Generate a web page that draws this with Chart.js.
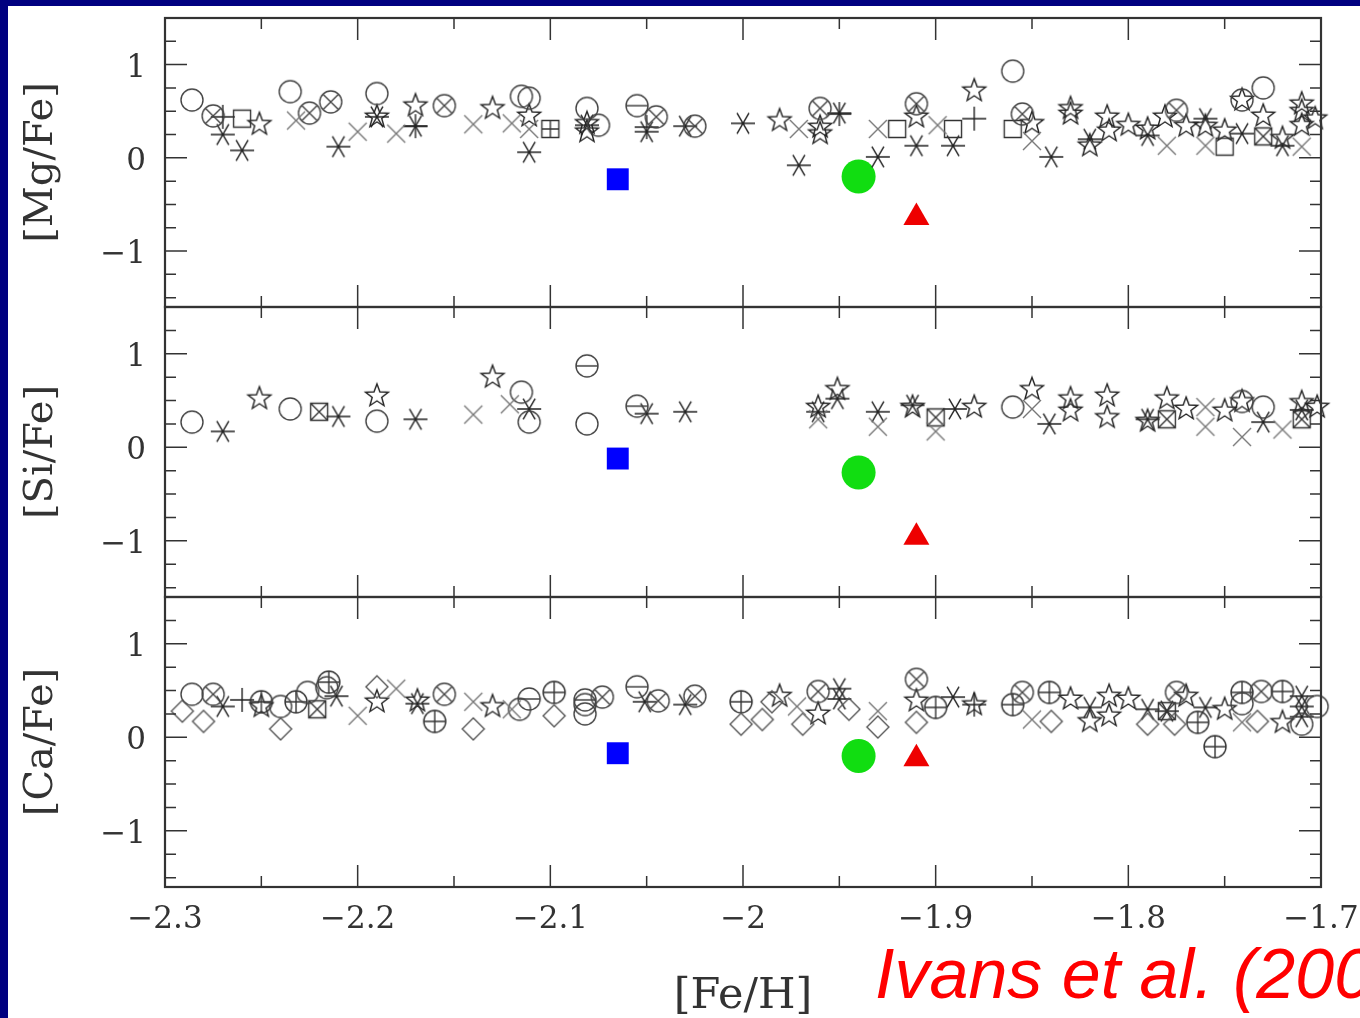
<!DOCTYPE html>
<html>
<head>
<meta charset="utf-8">
<script src="https://cdn.jsdelivr.net/npm/chart.js@4.4.1/dist/chart.umd.min.js"></script>
<style>
html, body { margin: 0; padding: 0; width: 1360px; height: 1018px; overflow: hidden; background: #000080; }
#sheet { position: absolute; left: 8px; top: 6px; width: 1352px; height: 1012px; background: #fff; }
canvas { position: absolute; left: 0; }
#cite { position: absolute; left: 875px; top: 939px; color: #f00; font: italic 70px "Liberation Sans", Arial, sans-serif; line-height: 1; white-space: nowrap; }
</style>
</head>
<body>
<div id="sheet"></div>
<canvas id="mg" width="1360" height="309" style="top:8px"></canvas>
<canvas id="si" width="1360" height="310" style="top:297px"></canvas>
<canvas id="ca" width="1360" height="441" style="top:587px"></canvas>
<div id="cite">Ivans et al. (2001)</div>
<script>
// axis ticks
const xMajorTicks = [-2.3, -2.2, -2.1, -2.0, -1.9, -1.8, -1.7];
const xTickLabels = ['\u22122.3', '\u22122.2', '\u22122.1', '\u22122', '\u22121.9', '\u22121.8', '\u22121.7'];
const xMinorTicks = [-2.25, -2.15, -2.05, -1.95, -1.85, -1.75];
const yMajorTicks = [-1, 0, 1];
const yTickLabels = ['\u22121', '0', '1'];
const yMinorTicks = [-1.5, -1.25, -0.75, -0.5, -0.25, 0.25, 0.5, 0.75, 1.25];

// [Mg/Fe] panel
const mgCircle = [[-2.286,0.62],[-2.235,0.71],[-2.190,0.69],[-2.115,0.66],[-2.111,0.64],[-2.081,0.53],[-2.075,0.35],[-1.860,0.93],[-1.730,0.75],[-1.741,0.62]];
const mgOCross = [[-2.275,0.45],[-2.225,0.48],[-2.214,0.60],[-2.155,0.56],[-2.045,0.44],[-2.025,0.34],[-1.960,0.53],[-1.910,0.58],[-1.855,0.47],[-1.775,0.51]];
const mgOMinus = [[-2.055,0.56]];
const mgStar = [[-2.251,0.36],[-2.190,0.44],[-2.170,0.56],[-2.130,0.53],[-2.111,0.45],[-2.081,0.37],[-2.081,0.28],[-1.981,0.40],[-1.960,0.26],[-1.960,0.33],[-1.910,0.44],[-1.880,0.72],[-1.850,0.37],[-1.830,0.53],[-1.830,0.47],[-1.820,0.13],[-1.811,0.44],[-1.810,0.29],[-1.800,0.35],[-1.790,0.31],[-1.781,0.44],[-1.770,0.34],[-1.760,0.34],[-1.750,0.29],[-1.741,0.62],[-1.730,0.45],[-1.720,0.21],[-1.710,0.58],[-1.710,0.50],[-1.710,0.35],[-1.703,0.42]];
const mgAster = [[-2.270,0.25],[-2.260,0.08],[-2.210,0.12],[-2.190,0.44],[-2.170,0.34],[-2.111,0.06],[-2.081,0.35],[-2.050,0.28],[-2.030,0.34],[-2.000,0.37],[-1.971,-0.08],[-1.950,0.48],[-1.930,0.01],[-1.910,0.13],[-1.891,0.13],[-1.840,0.01],[-1.820,0.20],[-1.790,0.24],[-1.741,0.26],[-1.720,0.13],[-1.760,0.42]];
const mgX = [[-2.232,0.40],[-2.200,0.28],[-2.180,0.26],[-2.140,0.36],[-2.120,0.37],[-2.111,0.31],[-1.971,0.31],[-1.930,0.31],[-1.899,0.35],[-1.850,0.18],[-1.780,0.13],[-1.760,0.13],[-1.710,0.12]];
const mgPlus = [[-2.270,0.44],[-2.170,0.34],[-2.050,0.33],[-1.950,0.47],[-1.880,0.42]];
const mgSquare = [[-2.260,0.42],[-1.920,0.31],[-1.891,0.31],[-1.860,0.31],[-1.750,0.12]];
const mgSqX = [[-1.730,0.23]];
const mgSqPlus = [[-2.100,0.31]];
const mgBlue = [[-2.065,-0.23]];
const mgGreen = [[-1.940,-0.20]];
const mgRed = [[-1.910,-0.64]];

// [Si/Fe] panel
const siCircle = [[-2.286,0.27],[-2.235,0.41],[-2.190,0.28],[-2.115,0.59],[-2.111,0.27],[-2.081,0.25],[-1.860,0.43],[-1.741,0.49],[-1.730,0.43]];
const siOMinus = [[-2.081,0.87],[-2.055,0.44]];
const siStar = [[-2.251,0.52],[-2.190,0.55],[-2.130,0.75],[-1.961,0.43],[-1.951,0.62],[-1.912,0.43],[-1.880,0.43],[-1.850,0.62],[-1.830,0.52],[-1.830,0.39],[-1.811,0.55],[-1.811,0.32],[-1.790,0.28],[-1.780,0.52],[-1.770,0.41],[-1.750,0.39],[-1.741,0.49],[-1.710,0.48],[-1.702,0.43]];
const siAster = [[-2.270,0.17],[-2.210,0.33],[-2.170,0.30],[-2.111,0.41],[-2.050,0.36],[-2.030,0.38],[-1.961,0.38],[-1.951,0.52],[-1.930,0.38],[-1.912,0.45],[-1.890,0.41],[-1.841,0.25],[-1.790,0.30],[-1.730,0.27],[-1.710,0.40]];
const siX = [[-2.140,0.35],[-2.121,0.46],[-1.961,0.30],[-1.930,0.22],[-1.900,0.17],[-1.850,0.41],[-1.760,0.43],[-1.760,0.22],[-1.741,0.11],[-1.720,0.19]];
const siSqX = [[-2.220,0.38],[-1.900,0.32],[-1.780,0.30],[-1.710,0.30]];
const siBlue = [[-2.065,-0.12]];
const siGreen = [[-1.940,-0.27]];
const siRed = [[-1.910,-0.96]];

// [Ca/Fe] panel
const caCircle = [[-2.286,0.46],[-2.240,0.33],[-2.226,0.48],[-2.216,0.53],[-2.116,0.30],[-2.082,0.35],[-2.082,0.25],[-1.741,0.36],[-1.710,0.14],[-1.702,0.33]];
const caOCross = [[-2.275,0.46],[-2.155,0.46],[-2.073,0.43],[-2.044,0.39],[-2.025,0.44],[-1.961,0.49],[-1.910,0.62],[-1.855,0.48],[-1.775,0.48],[-1.731,0.49]];
const caOPlus = [[-2.250,0.38],[-2.232,0.38],[-2.215,0.59],[-2.160,0.17],[-2.098,0.48],[-2.001,0.38],[-1.900,0.32],[-1.860,0.35],[-1.841,0.48],[-1.764,0.16],[-1.755,-0.10],[-1.741,0.48],[-1.720,0.49]];
const caOMinus = [[-2.111,0.41],[-2.055,0.54],[-2.082,0.40]];
const caDiamond = [[-2.291,0.28],[-2.280,0.17],[-2.240,0.09],[-2.190,0.54],[-2.140,0.09],[-2.098,0.23],[-2.001,0.14],[-1.990,0.19],[-1.985,0.38],[-1.969,0.14],[-1.945,0.30],[-1.930,0.11],[-1.910,0.16],[-1.840,0.17],[-1.790,0.14],[-1.776,0.14],[-1.733,0.17]];
const caStar = [[-2.250,0.33],[-2.190,0.38],[-2.169,0.39],[-2.130,0.33],[-1.981,0.44],[-1.961,0.25],[-1.910,0.39],[-1.880,0.35],[-1.830,0.41],[-1.820,0.17],[-1.810,0.44],[-1.810,0.23],[-1.800,0.41],[-1.770,0.44],[-1.750,0.30],[-1.720,0.16]];
const caAster = [[-2.270,0.33],[-2.211,0.44],[-2.169,0.36],[-2.051,0.38],[-2.030,0.35],[-1.950,0.52],[-1.950,0.41],[-1.891,0.43],[-1.820,0.32],[-1.790,0.30],[-1.780,0.28],[-1.760,0.32],[-1.710,0.44],[-1.710,0.33],[-1.710,0.22]];
const caX = [[-2.200,0.23],[-2.180,0.52],[-2.140,0.38],[-2.120,0.30],[-1.972,0.33],[-1.930,0.28],[-1.850,0.19],[-1.741,0.16]];
const caPlus = [[-1.880,0.35],[-2.260,0.40]];
const caSqX = [[-2.221,0.30],[-1.780,0.28]];
const caBlue = [[-2.065,-0.17]];
const caGreen = [[-1.940,-0.20]];
const caRed = [[-1.910,-0.23]];

// draw a hollow marker into a small canvas, used as a pointStyle
function makeMarker(kind, color) {
    const cv = document.createElement('canvas');
    cv.width = 30; cv.height = 30;
    const g = cv.getContext('2d');
    g.strokeStyle = color;
    g.lineWidth = 1.4;
    g.translate(15, 15);
    g.beginPath();
    const circle = () => { g.moveTo(11, 0); g.arc(0, 0, 11, 0, Math.PI * 2); };
    const square = () => g.rect(-8.5, -8.5, 17, 17);
    const line = (x1, y1, x2, y2) => { g.moveTo(x1, y1); g.lineTo(x2, y2); };
    if (kind === 'circle') circle();
    if (kind === 'ocross') { circle(); line(-7.8, -7.8, 7.8, 7.8); line(-7.8, 7.8, 7.8, -7.8); }
    if (kind === 'oplus') { circle(); line(-11, 0, 11, 0); line(0, -11, 0, 11); }
    if (kind === 'ominus') { circle(); line(-11, 0, 11, 0); }
    if (kind === 'square') square();
    if (kind === 'sqx') { square(); line(-8.5, -8.5, 8.5, 8.5); line(-8.5, 8.5, 8.5, -8.5); }
    if (kind === 'sqplus') { square(); line(-8.5, 0, 8.5, 0); line(0, -8.5, 0, 8.5); }
    if (kind === 'x') { line(-9, -9, 9, 9); line(-9, 9, 9, -9); }
    if (kind === 'plus') { line(-12, 0, 12, 0); line(0, -12, 0, 12); }
    if (kind === 'diamond') { g.moveTo(0, -11); g.lineTo(11, 0); g.lineTo(0, 11); g.lineTo(-11, 0); g.closePath(); }
    if (kind === 'aster') {
        for (let k = 0; k < 3; k++) {
            const a = k * Math.PI / 3;
            line(-12 * Math.cos(a), -12 * Math.sin(a), 12 * Math.cos(a), 12 * Math.sin(a));
        }
    }
    if (kind === 'star') {
        for (let k = 0; k < 10; k++) {
            const r = k % 2 ? 5 : 12;
            const a = -Math.PI / 2 + k * Math.PI / 5;
            if (k === 0) g.moveTo(r * Math.cos(a), r * Math.sin(a));
            else g.lineTo(r * Math.cos(a), r * Math.sin(a));
        }
        g.closePath();
    }
    g.stroke();
    return cv;
}

const mk = {
    circle: makeMarker('circle', '#444'),
    ocross: makeMarker('ocross', '#444'),
    oplus: makeMarker('oplus', '#333'),
    ominus: makeMarker('ominus', '#444'),
    star: makeMarker('star', '#222'),
    aster: makeMarker('aster', '#222'),
    x: makeMarker('x', '#777'),
    plus: makeMarker('plus', '#222'),
    square: makeMarker('square', '#333'),
    sqx: makeMarker('sqx', '#333'),
    sqplus: makeMarker('sqplus', '#333'),
    diamond: makeMarker('diamond', '#555')
};

function hollow(points, style) {
    return { data: points.map(p => ({ x: p[0], y: p[1] })), pointStyle: style, pointRadius: 10 };
}
function filled(points, style, radius, color) {
    return { data: points.map(p => ({ x: p[0], y: p[1] })), pointStyle: style, pointRadius: radius,
             backgroundColor: color, borderColor: color, borderWidth: 0 };
}

// frame with inward ticks on all four sides
const framePlugin = {
    id: 'frame',
    afterDatasetsDraw(chart) {
        const { ctx, chartArea: a, scales: { x, y } } = chart;
        ctx.save();
        ctx.strokeStyle = '#333';
        ctx.lineWidth = 1.5;
        ctx.beginPath();
        const xt = (vals, len) => vals.forEach(v => {
            const px = x.getPixelForValue(v);
            ctx.moveTo(px, a.top); ctx.lineTo(px, a.top + len);
            ctx.moveTo(px, a.bottom); ctx.lineTo(px, a.bottom - len);
        });
        const yt = (vals, len) => vals.forEach(v => {
            const py = y.getPixelForValue(v);
            ctx.moveTo(a.left, py); ctx.lineTo(a.left + len, py);
            ctx.moveTo(a.right, py); ctx.lineTo(a.right - len, py);
        });
        xt(xMajorTicks, 22); xt(xMinorTicks, 11);
        yt(yMajorTicks, 22); yt(yMinorTicks, 11);
        ctx.stroke();
        ctx.lineWidth = 2.2;
        ctx.strokeRect(a.left, a.top, a.right - a.left, a.bottom - a.top);
        ctx.restore();
    }
};

const serif = 'DejaVu Serif';

function makePanel(id, datasets, yTitle, isBottom) {
    return new Chart(document.getElementById(id), {
        type: 'scatter',
        data: { datasets: datasets },
        plugins: [framePlugin],
        options: {
            responsive: false,
            animation: false,
            events: [],
            clip: false,
            layout: { autoPadding: false, padding: { top: 10, bottom: isBottom ? 0 : 10, left: 0, right: 39 } },
            plugins: { legend: { display: false }, tooltip: { enabled: false } },
            scales: {
                x: {
                    type: 'linear', min: -2.3, max: -1.7, display: isBottom,
                    grid: { display: false }, border: { display: false },
                    afterBuildTicks: s => { s.ticks = xMajorTicks.map(v => ({ value: v })); },
                    ticks: { callback: (v, i) => xTickLabels[i], font: { family: serif, size: 31 }, color: '#333',
                             padding: 6, maxRotation: 0, autoSkip: false },
                    title: { display: true, text: '[Fe/H]', font: { family: serif, size: 43 }, color: '#333',
                             padding: { top: 0, bottom: 5 } },
                    afterFit: s => {
                        if (isBottom) s.height = 141;
                        s.paddingLeft = 0; s.paddingRight = 0;
                    }
                },
                y: {
                    type: 'linear', min: -1.6, max: 1.5,
                    grid: { display: false }, border: { display: false },
                    afterBuildTicks: s => { s.ticks = yMajorTicks.map(v => ({ value: v })); },
                    ticks: { callback: (v, i) => yTickLabels[i], font: { family: serif, size: 31 }, color: '#333',
                             padding: 11, labelOffset: 4 },
                    title: { display: true, text: yTitle, font: { family: serif, size: 40 }, color: '#333',
                             padding: { top: 18, bottom: 0 } },
                    afterFit: s => {
                        s.width = 165;
                        s.paddingTop = 0; s.paddingBottom = 0;
                    }
                }
            }
        }
    });
}

makePanel('mg', [
    hollow(mgX, mk.x), hollow(mgCircle, mk.circle), hollow(mgOCross, mk.ocross), hollow(mgOMinus, mk.ominus),
    hollow(mgSquare, mk.square), hollow(mgSqX, mk.sqx), hollow(mgSqPlus, mk.sqplus),
    hollow(mgStar, mk.star), hollow(mgAster, mk.aster), hollow(mgPlus, mk.plus),
    filled(mgBlue, 'rect', 15.5, '#0000ff'), filled(mgGreen, 'circle', 17, '#11dd11'), filled(mgRed, 'triangle', 15, '#ee0000')
], '[Mg/Fe]', false);

makePanel('si', [
    hollow(siX, mk.x), hollow(siCircle, mk.circle), hollow(siOMinus, mk.ominus), hollow(siSqX, mk.sqx),
    hollow(siStar, mk.star), hollow(siAster, mk.aster),
    filled(siBlue, 'rect', 15.5, '#0000ff'), filled(siGreen, 'circle', 17, '#11dd11'), filled(siRed, 'triangle', 15, '#ee0000')
], '[Si/Fe]', false);

makePanel('ca', [
    hollow(caX, mk.x), hollow(caDiamond, mk.diamond), hollow(caCircle, mk.circle), hollow(caOCross, mk.ocross),
    hollow(caOPlus, mk.oplus), hollow(caOMinus, mk.ominus), hollow(caSqX, mk.sqx),
    hollow(caStar, mk.star), hollow(caAster, mk.aster), hollow(caPlus, mk.plus),
    filled(caBlue, 'rect', 15.5, '#0000ff'), filled(caGreen, 'circle', 17, '#11dd11'), filled(caRed, 'triangle', 15, '#ee0000')
], '[Ca/Fe]', true);
</script>
</body>
</html>
